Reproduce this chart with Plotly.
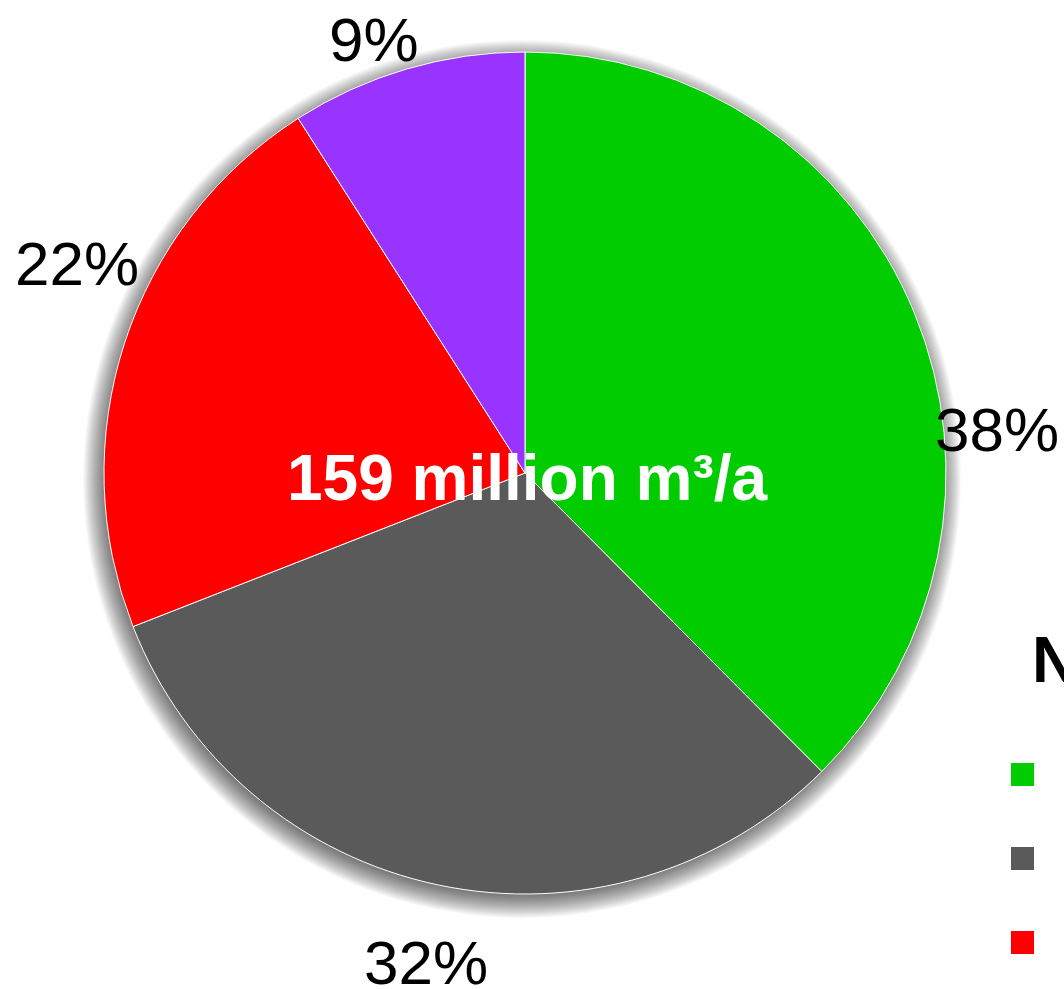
import plotly.graph_objects as go

# ---- data (million m3 per year) ----
categories = ["Agriculture", "Industry", "Households", "Other"]
values = [59.7, 50.1, 34.8, 14.4]
colors = ["#00cc00", "#5a5a5a", "#ff0000", "#9933ff"]
legend_title = "Net water use"

W, H = 1064, 989
CX, CY, R = 525, 473, 421  # pie centre / radius in pixels (layout)

def px(x):
    return x / W

def py(y):
    return 1 - y / H

total = sum(values)
percents = [round(v / total * 100) for v in values]

fig = go.Figure()
fig.add_trace(go.Pie(
    labels=categories,
    values=values,
    sort=False,
    direction="clockwise",
    rotation=0,
    marker=dict(colors=colors, line=dict(color="white", width=1)),
    textinfo="none",
    hoverinfo="label+value+percent",
    showlegend=False,
    domain=dict(x=[px(CX - R), px(CX + R)], y=[py(CY + R), py(CY - R)]),
))

# ---- soft drop shadow behind the pie ----
shapes = []
SX, SY = CX - 3, CY + 6
for d in range(18, -14, -1):
    rr = R + d
    shapes.append(dict(
        type="circle", xref="paper", yref="paper", layer="below",
        x0=px(SX - rr), x1=px(SX + rr), y0=py(SY + rr), y1=py(SY - rr),
        fillcolor="rgba(0,0,0,0.027)", line=dict(width=0),
    ))

# ---- hand drawn legend (large squares) ----
leg_x0, leg_y0, leg_step, sq = 1011, 763, 84, 23
annotations = []
for i, (name, col) in enumerate(zip(categories, colors)):
    y = leg_y0 + i * leg_step
    shapes.append(dict(
        type="rect", xref="paper", yref="paper",
        x0=px(leg_x0), x1=px(leg_x0 + sq), y0=py(y + sq), y1=py(y),
        fillcolor=col, line=dict(width=0),
    ))
    annotations.append(dict(
        text=name, xref="paper", yref="paper", x=px(1075), y=py(y + sq / 2),
        xanchor="left", yanchor="middle", showarrow=False,
        font=dict(family="Liberation Sans, Arial, sans-serif", size=60, color="black"),
    ))
annotations.append(dict(
    text=f"<b>{legend_title}</b>", xref="paper", yref="paper", x=px(1030), y=py(660),
    xanchor="left", yanchor="middle", showarrow=False,
    font=dict(family="Liberation Sans, Arial, sans-serif", size=64, color="black"),
))

# ---- percentage labels ----
label_pos = [(997, 430), (426, 962), (77, 263), (374, 40)]
for p, (lx, ly) in zip(percents, label_pos):
    annotations.append(dict(
        text=f"{p}%", xref="paper", yref="paper", x=px(lx), y=py(ly),
        xanchor="center", yanchor="middle", showarrow=False,
        font=dict(family="Liberation Sans, Arial, sans-serif", size=62, color="black"),
    ))

# ---- centre total ----
annotations.append(dict(
    text=f"<b>{total:.0f} million m³/a</b>", xref="paper", yref="paper",
    x=px(527), y=py(478), xanchor="center", yanchor="middle", showarrow=False,
    font=dict(family="Liberation Sans, Arial, sans-serif", size=64, color="white"),
))

fig.update_layout(
    width=W, height=H,
    margin=dict(l=0, r=0, t=0, b=0, pad=0),
    paper_bgcolor="white", plot_bgcolor="white",
    shapes=shapes, annotations=annotations,
    showlegend=False,
)

fig.write_html("out.html")
